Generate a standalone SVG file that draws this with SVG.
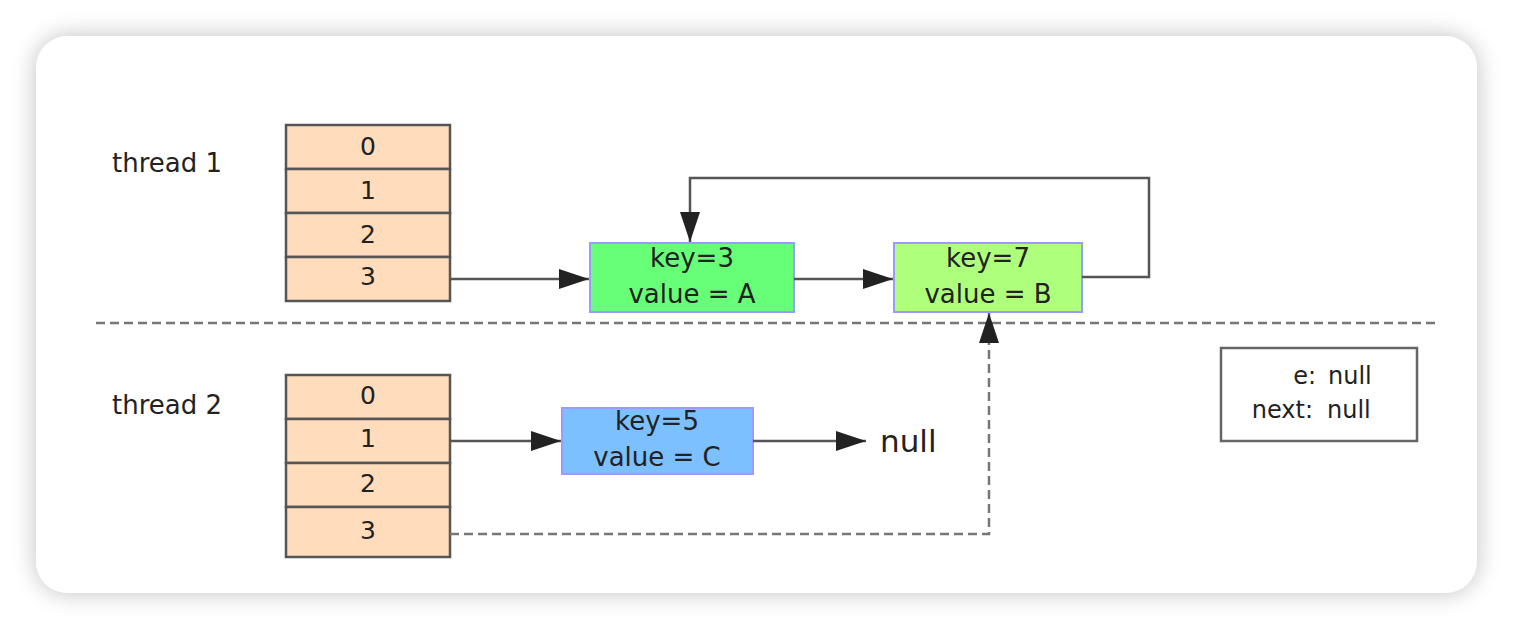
<svg xmlns="http://www.w3.org/2000/svg" width="1514" height="630" viewBox="0 0 1514 630">
<defs>
<filter id="sh" x="-10%" y="-10%" width="120%" height="120%">
<feGaussianBlur in="SourceAlpha" stdDeviation="12"/>
<feComponentTransfer><feFuncA type="linear" slope="0.25"/></feComponentTransfer>
<feMerge><feMergeNode/><feMergeNode in="SourceGraphic"/></feMerge>
</filter>
<marker id="ahb" markerWidth="30" markerHeight="20" refX="30" refY="10" orient="auto" markerUnits="userSpaceOnUse" viewBox="0 0 30 20">
<path d="M0,0 L30,10 L0,20 Z" fill="#222"/>
</marker>
</defs>
<style>
text{font-family:"DejaVu Sans","Liberation Sans",sans-serif;fill:#222;}
.cell{fill:#ffdcbc;stroke:#555;stroke-width:2.5;}
.lbl{font-size:26px;}
.num{font-size:25px;text-anchor:middle;}
.node{stroke:#9a9aff;stroke-width:2;}
.ntxt{font-size:26px;text-anchor:middle;}
.leg{font-size:24px;}
.conn{fill:none;stroke:#555;stroke-width:2.5;}
.dash{fill:none;stroke:#777;stroke-width:2.5;stroke-dasharray:9,5;}
</style>
<rect x="0" y="0" width="1514" height="630" fill="#ffffff"/>
<rect x="36" y="36" width="1441" height="557" rx="32" ry="32" fill="#ffffff" filter="url(#sh)"/>

<g id="label-thread1"><text class="lbl" x="112" y="172">thread 1</text></g>
<g id="label-thread2"><text class="lbl" x="112" y="414">thread 2</text></g>

<g id="array1">
<rect class="cell" x="286" y="125" width="164" height="44"/>
<rect class="cell" x="286" y="169" width="164" height="44"/>
<rect class="cell" x="286" y="213" width="164" height="44"/>
<rect class="cell" x="286" y="257" width="164" height="44"/>
<text class="num" x="368" y="155">0</text>
<text class="num" x="368" y="199">1</text>
<text class="num" x="368" y="243">2</text>
<text class="num" x="368" y="285">3</text>
</g>

<g id="array2">
<rect class="cell" x="286" y="375" width="164" height="44"/>
<rect class="cell" x="286" y="419" width="164" height="44"/>
<rect class="cell" x="286" y="463" width="164" height="44"/>
<rect class="cell" x="286" y="507" width="164" height="50"/>
<text class="num" x="368" y="404">0</text>
<text class="num" x="368" y="447">1</text>
<text class="num" x="368" y="492">2</text>
<text class="num" x="368" y="539">3</text>
</g>

<g id="nodeA">
<rect class="node" x="590" y="243" width="204" height="69" fill="#66ff77"/>
<text class="ntxt" x="692" y="267">key=3</text>
<text class="ntxt" x="692" y="303">value = A</text>
</g>

<g id="nodeB">
<rect class="node" x="894" y="243" width="188" height="69" fill="#aeff7c"/>
<text class="ntxt" x="988" y="267">key=7</text>
<text class="ntxt" x="988" y="303">value = B</text>
</g>

<g id="nodeC">
<rect class="node" x="562" y="408" width="191" height="66" fill="#7cc0ff"/>
<text class="ntxt" x="657" y="430">key=5</text>
<text class="ntxt" x="657" y="466">value = C</text>
</g>

<g id="null-label"><text x="880" y="452" style="font-size:31px;">null</text></g>

<g id="legend">
<rect x="1221" y="348" width="196" height="93" fill="#fff" stroke="#666" stroke-width="2.5"/>
<text class="leg" x="1316" y="384" text-anchor="end">e:</text>
<text class="leg" x="1328" y="384">null</text>
<text class="leg" x="1313" y="418" text-anchor="end">next:</text>
<text class="leg" x="1327" y="418">null</text>
</g>

<g id="connectors">
<line class="dash" x1="96" y1="323" x2="1438" y2="323"/>
<line class="conn" x1="450" y1="279" x2="589" y2="279" marker-end="url(#ahb)"/>
<line class="conn" x1="794" y1="279" x2="893" y2="279" marker-end="url(#ahb)"/>
<polyline class="conn" points="1082,277 1149,277 1149,178 690,178 690,242" marker-end="url(#ahb)"/>
<line class="conn" x1="450" y1="441" x2="561" y2="441" marker-end="url(#ahb)"/>
<line class="conn" x1="753" y1="441" x2="866" y2="441" marker-end="url(#ahb)"/>
<polyline class="dash" points="450,534 989,534 989,313" marker-end="url(#ahb)"/>
</g>
</svg>
